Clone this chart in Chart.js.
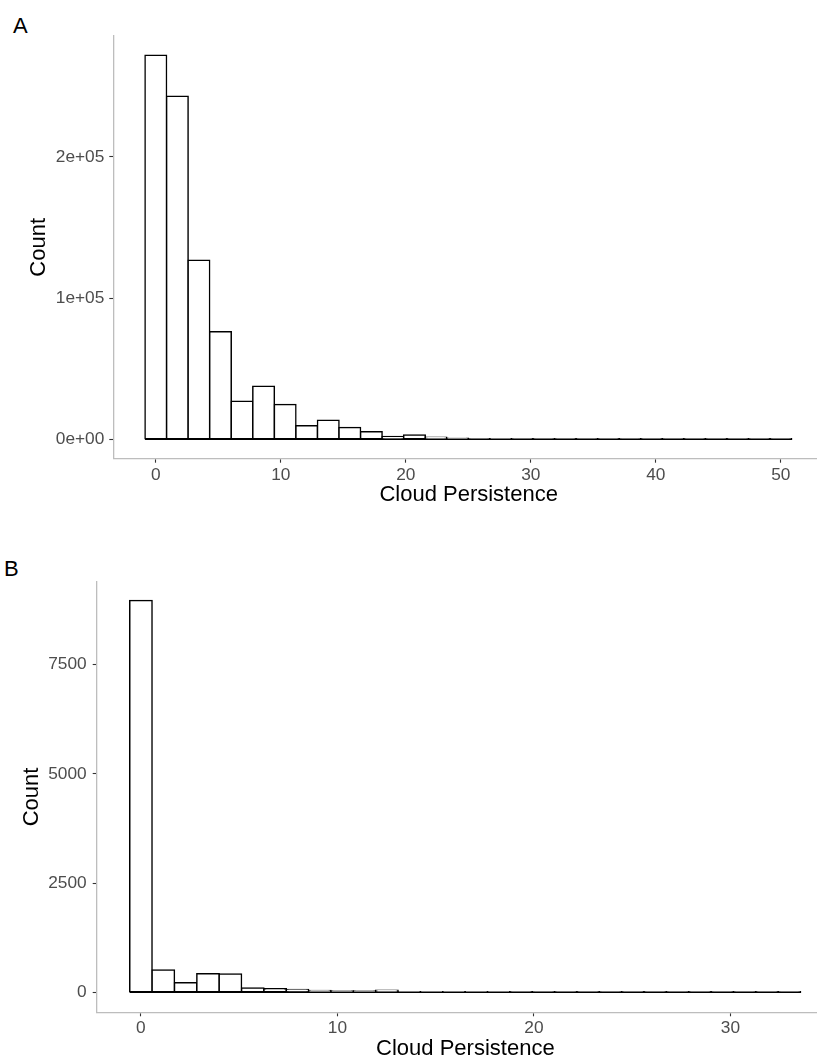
<!DOCTYPE html>
<html>
<head>
<meta charset="utf-8">
<title>Cloud Persistence histograms</title>
<script src="https://cdn.jsdelivr.net/npm/chart.js@4.4.1/dist/chart.umd.min.js"></script>
<style>
    html, body {
        margin: 0;
        padding: 0;
        background: #ffffff;
        width: 817px;
        height: 1062px;
        overflow: hidden;
        font-family: "Liberation Sans", Arial, sans-serif;
    }
    .panel {
        position: absolute;
        left: 0;
    }
    .tag {
        position: absolute;
        font-size: 22px;
        line-height: 22px;
        color: #000000;
    }
</style>
</head>
<body>
<div class="tag" style="left: 13px; top: 15px;">A</div>
<div class="tag" style="left: 4px; top: 558px;">B</div>
<div class="panel" style="top: 0px;"><canvas id="histA" width="824" height="520"></canvas></div>
<div class="panel" style="top: 540px;"><canvas id="histB" width="834" height="522"></canvas></div>

<script>
(() => {
    "use strict";

    // ====== Data: panel A ======
    const binsA = [0, 1.724, 3.448, 5.172, 6.897, 8.621, 10.345, 12.069, 13.793, 15.517,
        17.241, 18.966, 20.690, 22.414, 24.138, 25.862, 27.586, 29.310, 31.034, 32.759,
        34.483, 36.207, 37.931, 39.655, 41.379, 43.103, 44.828, 46.552, 48.276, 50.000];
    const countsA = [272000, 243000, 126800, 76200, 26900, 37600, 24600, 9600, 13600, 8400,
        5400, 2000, 3000, 1500, 700, 250, 350, 120, 90, 60,
        45, 30, 25, 18, 14, 10, 8, 6, 4, 3];
    const xTicksA = [0, 10, 20, 30, 40, 50];
    const yTicksA = [0, 100000, 200000];
    const yTickLabelsA = ["0e+00", "1e+05", "2e+05"];

    // ====== Data: panel B ======
    const binsB = [0, 1.138, 2.276, 3.414, 4.552, 5.690, 6.828, 7.966, 9.103, 10.241,
        11.379, 12.517, 13.655, 14.793, 15.931, 17.069, 18.207, 19.345, 20.483, 21.621,
        22.759, 23.897, 25.034, 26.172, 27.310, 28.448, 29.586, 30.724, 31.862, 33.000];
    const countsB = [8970, 510, 220, 425, 420, 98, 82, 65, 42, 30,
        30, 45, 15, 12, 10, 8, 8, 6, 5, 4,
        3, 3, 2, 2, 2, 1, 1, 1, 1, 1];
    const xTicksB = [0, 10, 20, 30];
    const yTicksB = [0, 2500, 5000, 7500];
    const yTickLabelsB = ["0", "2500", "5000", "7500"];

    // ====== Shared styling ======
    const FONT = "'Liberation Sans', Arial, sans-serif";
    const TICK_GREY = "#4d4d4d";
    const AXIS_GREY = "#bdbdbd";
    const AXIS_W = 1.3;
    const BAR_W = 1.5;

    Chart.defaults.font.family = FONT;

    function axisGrid() {
        return {
            display: true,
            drawOnChartArea: false,
            drawTicks: true,
            tickLength: 4,
            tickColor: "#333333",
            tickWidth: 1.1,
            offset: false
        };
    }

    function makeHistogram(canvasId, cfg) {
        const half = (cfg.bins[1] - cfg.bins[0]) / 2;
        const bars = cfg.bins.map((b, i) => ({ x: b, y: cfg.counts[i] }));
        // bottom edge shared by all bins
        const baseline = [
            { x: cfg.bins[0] - half, y: 0 },
            { x: cfg.bins[cfg.bins.length - 1] + half, y: 0 }
        ];

        return new Chart(document.getElementById(canvasId).getContext("2d"), {
            type: "bar",
            data: {
                datasets: [
                    {
                        type: "line",
                        data: baseline,
                        borderColor: "#000000",
                        borderWidth: BAR_W,
                        pointRadius: 0,
                        order: 0
                    },
                    {
                        type: "bar",
                        data: bars,
                        backgroundColor: "#ffffff",
                        borderColor: "#000000",
                        borderWidth: BAR_W,
                        borderSkipped: false,
                        inflateAmount: BAR_W / 2,
                        barPercentage: 1,
                        categoryPercentage: 1,
                        order: 1
                    }
                ]
            },
            options: {
                responsive: false,
                animation: false,
                events: [],
                layout: { padding: { top: cfg.padTop, left: 0, right: 0, bottom: 0 } },
                plugins: {
                    legend: { display: false },
                    tooltip: { enabled: false }
                },
                scales: {
                    x: {
                        type: "linear",
                        min: cfg.xMin,
                        max: cfg.xMax,
                        offset: false,
                        grid: axisGrid(),
                        border: { display: true, color: AXIS_GREY, width: AXIS_W },
                        ticks: {
                            autoSkip: false,
                            maxRotation: 0,
                            padding: 2,
                            color: TICK_GREY,
                            font: { size: 17.3 },
                            callback: (v) => String(v)
                        },
                        afterBuildTicks: (s) => {
                            s.ticks = cfg.xTicks.map((v) => ({ value: v }));
                        },
                        afterFit: (s) => {
                            s.height = cfg.xHeight;
                        },
                        title: {
                            display: true,
                            text: "Cloud Persistence",
                            color: "#000000",
                            font: { size: 22 },
                            padding: { top: 0, bottom: cfg.xTitlePad }
                        }
                    },
                    y: {
                        type: "linear",
                        min: cfg.yMin,
                        max: cfg.yMax,
                        grid: axisGrid(),
                        border: { display: true, color: AXIS_GREY, width: AXIS_W },
                        ticks: {
                            padding: cfg.yTickPad,
                            color: TICK_GREY,
                            font: { size: 17.3 },
                            callback: (v, i) => cfg.yLabels[i]
                        },
                        afterBuildTicks: (s) => {
                            s.ticks = cfg.yTicks.map((v) => ({ value: v }));
                        },
                        afterFit: (s) => {
                            s.width = cfg.yWidth;
                        },
                        title: {
                            display: true,
                            text: "Count",
                            color: "#000000",
                            font: { size: 22 },
                            padding: { top: cfg.yTitlePad, bottom: 0 }
                        }
                    }
                }
            }
        });
    }

    // ====== Init ======
    makeHistogram("histA", {
        bins: binsA,
        counts: countsA,
        xTicks: xTicksA,
        yTicks: yTicksA,
        yLabels: yTickLabelsA,
        xMin: -3.4,
        xMax: 53.45,
        yMin: -13700,
        yMax: 285600,
        padTop: 36,
        yWidth: 113.3,
        xHeight: 61.3,
        xTitlePad: 11.8,
        yTitlePad: 25.9,
        yTickPad: 5
    });

    makeHistogram("histB", {
        bins: binsB,
        counts: countsB,
        xTicks: xTicksB,
        yTicks: yTicksB,
        yLabels: yTickLabelsB,
        xMin: -2.25,
        xMax: 35.27,
        yMin: -458,
        yMax: 9400,
        padTop: 41.7,
        yWidth: 96.7,
        xHeight: 49.7,
        xTitlePad: 0,
        yTitlePad: 19.2,
        yTickPad: 6
    });
})();
</script>
</body>
</html>
